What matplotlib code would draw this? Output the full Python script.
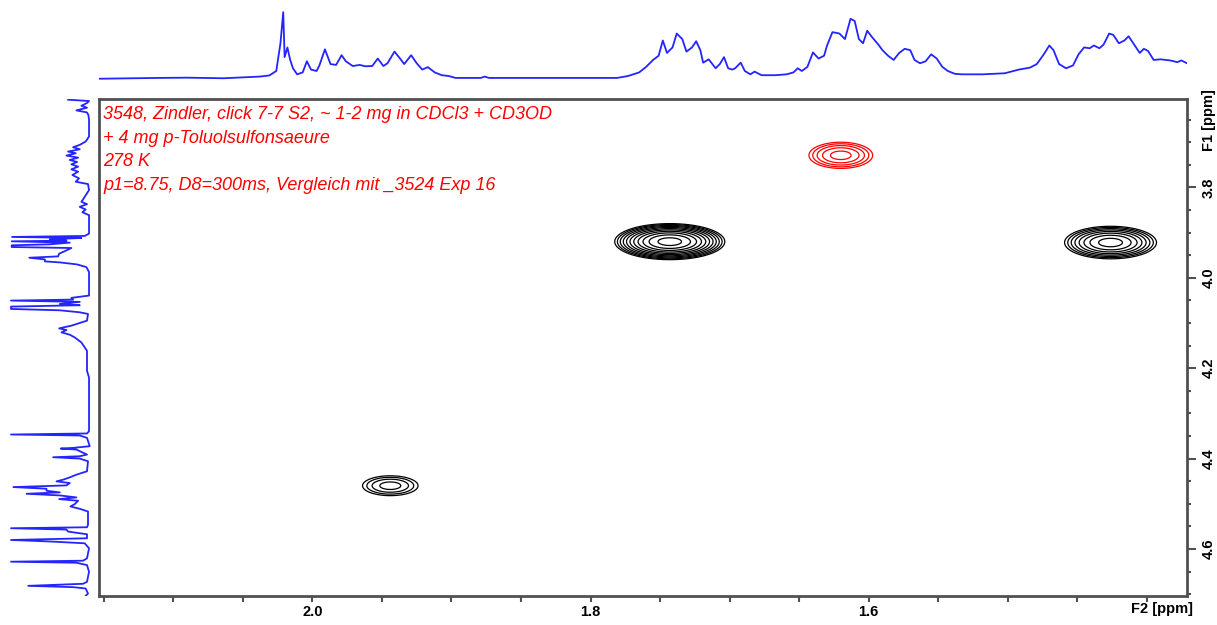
import matplotlib
matplotlib.use("Agg")
from matplotlib import pyplot as plt
from matplotlib.ticker import MultipleLocator
import numpy as np

# F2 projection shown above the map (ppm, relative intensity)
top_ppm = [2.157, 2.111, 2.090, 2.064, 2.038, 2.031, 2.026, 2.023, 2.021, 2.020,
           2.018, 2.016, 2.014, 2.011, 2.007, 2.004, 2.001, 1.997, 1.995, 1.991,
           1.987, 1.983, 1.979, 1.976, 1.971, 1.966, 1.962, 1.957, 1.953, 1.949,
           1.946, 1.941, 1.937, 1.934, 1.929, 1.925, 1.921, 1.917, 1.912, 1.907,
           1.902, 1.897, 1.879, 1.876, 1.873, 1.781, 1.773, 1.765, 1.760, 1.755,
           1.751, 1.748, 1.745, 1.741, 1.738, 1.734, 1.731, 1.727, 1.724, 1.721,
           1.719, 1.715, 1.710, 1.707, 1.704, 1.701, 1.698, 1.696, 1.692, 1.689,
           1.685, 1.682, 1.677, 1.667, 1.659, 1.654, 1.651, 1.648, 1.644, 1.640,
           1.636, 1.632, 1.630, 1.626, 1.621, 1.617, 1.613, 1.610, 1.607, 1.604,
           1.601, 1.598, 1.593, 1.590, 1.586, 1.582, 1.578, 1.574, 1.570, 1.567,
           1.563, 1.559, 1.555, 1.551, 1.547, 1.543, 1.538, 1.533, 1.518, 1.502,
           1.492, 1.484, 1.479, 1.474, 1.470, 1.467, 1.463, 1.458, 1.453, 1.449,
           1.445, 1.441, 1.438, 1.434, 1.431, 1.427, 1.424, 1.420, 1.416, 1.413,
           1.409, 1.405, 1.402, 1.399, 1.395, 1.390, 1.383, 1.378, 1.375, 1.371]
top_int = [0.0, 1.3, 1.7, 0.8, 3.3, 5.0, 11.7, 53.3, 100.0, 32.5,
           47.0, 28.3, 15.8, 6.7, 9.6, 26.3, 13.8, 11.7, 20.0, 44.2,
           22.1, 20.8, 35.4, 26.3, 19.2, 20.8, 18.8, 19.2, 30.4, 19.2,
           23.3, 40.8, 30.4, 22.1, 35.4, 23.3, 13.8, 17.5, 9.6, 5.4,
           4.2, 1.3, 1.3, 3.3, 1.3, 1.3, 4.2, 9.6, 17.9, 28.3,
           34.6, 57.5, 38.8, 47.1, 67.9, 59.6, 40.8, 47.1, 56.3, 42.9,
           24.2, 29.2, 15.8, 22.1, 32.5, 15.8, 13.8, 15.8, 24.2, 11.7,
           6.7, 10.8, 5.4, 5.4, 6.7, 9.6, 15.8, 11.7, 17.9, 39.6,
           30.4, 34.6, 49.2, 70.0, 67.9, 59.6, 90.0, 86.7, 59.6, 53.3,
           72.1, 63.8, 51.3, 42.9, 34.6, 28.3, 38.8, 45.0, 42.9, 28.3,
           23.3, 26.3, 36.7, 30.4, 17.9, 11.7, 7.5, 6.7, 6.7, 8.3,
           13.8, 16.7, 22.1, 36.7, 50.0, 42.9, 22.1, 15.8, 20.0, 36.7,
           47.1, 45.8, 50.0, 45.8, 51.3, 67.9, 65.8, 53.3, 57.5, 63.8,
           51.3, 38.8, 45.0, 41.7, 28.3, 29.2, 27.5, 25.0, 27.5, 23.3]

# F1 projection shown left of the map (ppm, relative intensity)
left_ppm = [3.6059, 3.6089, 3.6133, 3.6193, 3.6237, 3.6296, 3.6341, 3.6393, 3.6504, 3.6874,
            3.6985, 3.7059, 3.7111, 3.7156, 3.7207, 3.7244, 3.7296, 3.7341, 3.7393, 3.7437,
            3.7489, 3.7541, 3.7600, 3.7652, 3.7726, 3.7800, 3.7874, 3.7926, 3.8059, 3.8267,
            3.8319, 3.8370, 3.8430, 3.8489, 3.8548, 3.8615, 3.9022, 3.9074, 3.9096, 3.9119,
            3.9148, 3.9178, 3.9193, 3.9222, 3.9259, 3.9281, 3.9319, 3.9341, 3.9393, 3.9467,
            3.9526, 3.9556, 3.9593, 3.9637, 3.9659, 3.9704, 3.9763, 3.9874, 4.0393, 4.0444,
            4.0482, 4.0504, 4.0533, 4.0578, 4.0607, 4.0637, 4.0689, 4.0719, 4.0763, 4.0800,
            4.0948, 4.1022, 4.1059, 4.1119, 4.1156, 4.1207, 4.1259, 4.1319, 4.1430, 4.1615,
            4.2059, 4.2207, 4.3393, 4.3444, 4.3467, 4.3489, 4.3541, 4.3726, 4.3763, 4.3778,
            4.3800, 4.3852, 4.3911, 4.3948, 4.3970, 4.4000, 4.4059, 4.4281, 4.4356, 4.4415,
            4.4467, 4.4504, 4.4541, 4.4593, 4.4630, 4.4667, 4.4711, 4.4748, 4.4778, 4.4815,
            4.4859, 4.4896, 4.4933, 4.5007, 4.5059, 4.5111, 4.5170, 4.5467, 4.5519, 4.5541,
            4.5570, 4.5615, 4.5674, 4.5763, 4.5800, 4.5837, 4.5874, 4.5985, 4.6207, 4.6259,
            4.6281, 4.6304, 4.6356, 4.6504, 4.6726, 4.6770, 4.6815, 4.6844, 4.6874, 4.6985,
            4.7059]
left_int = [26.8, 0.0, 2.6, 9.8, 2.6, 16.2, 2.6, 0.9, 0.0, 0.0,
            4.3, 11.9, 20.4, 11.9, 26.8, 17.0, 28.9, 14.0, 24.7, 15.3,
            22.6, 14.0, 22.6, 14.0, 21.3, 12.8, 17.0, 1.3, 0.0, 7.7,
            9.8, 2.6, 11.9, 4.3, 8.5, 0.0, 0.0, 5.5, 98.7, 9.8,
            50.2, 28.9, 99.1, 24.7, 50.2, 99.1, 99.1, 22.6, 28.9, 38.3,
            39.6, 76.6, 56.6, 56.6, 37.4, 15.3, 3.4, 0.0, 0.0, 22.6,
            20.4, 100.0, 11.9, 37.4, 11.9, 100.0, 100.0, 37.4, 11.9, 1.3,
            2.6, 16.2, 22.6, 38.3, 28.9, 35.3, 24.7, 18.3, 9.8, 2.6,
            2.6, 0.0, 0.0, 2.6, 100.0, 11.9, 2.6, -0.9, 20.4, 36.2,
            16.2, 9.8, 2.6, 11.9, 46.0, 11.9, 1.3, 2.6, 16.2, 24.7,
            33.2, 41.7, 24.7, 28.9, 97.0, 54.5, 54.5, 37.4, 80.0, 37.4,
            16.2, 38.3, 14.0, 18.3, 23.8, 11.9, 1.3, 1.3, 2.6, 100.0,
            28.9, 26.8, 2.6, 2.6, 100.0, 46.0, 5.5, 0.0, 2.6, 7.7,
            100.0, 16.2, 2.6, 0.0, 2.6, 7.7, 77.9, 20.4, 4.3, 1.3,
            5.5]

# cross peaks: F2 ppm, F1 ppm, intensity (negative = red contours), widths
peak_f2 = [1.743, 1.426, 1.944, 1.620]
peak_f1 = [3.920, 3.922, 4.460, 3.729]
peak_amp = [34.0, 12.5, 3.25, -4.5]
peak_wf2 = [0.0149, 0.0147, 0.0130, 0.0132]
peak_wf1 = [0.0150, 0.0160, 0.0143, 0.0167]

title_lines = [
    "3548, Zindler, click 7-7 S2, ~ 1-2 mg in CDCl3 + CD3OD",
    "+ 4 mg p-Toluolsulfonsaeure",
    "278 K",
    "p1=8.75, D8=300ms, Vergleich mit _3524 Exp 16",
]

F2_LIM = (2.1535, 1.371)
F1_LIM = (4.704, 3.6044)
W, H = 1217, 625
FRAME = "#505050"
BLUE = "#2424ff"

plt.rcParams["font.family"] = ["Liberation Sans", "DejaVu Sans"]

fig = plt.figure(figsize=(W / 100, H / 100), dpi=100)
x0, x1, y0, y1 = 99, 1187, 99, 596
ax = fig.add_axes([x0 / W, 1 - y1 / H, (x1 - x0) / W, (y1 - y0) / H])
ax_top = fig.add_axes([x0 / W, 1 - y0 / H, (x1 - x0) / W, y0 / H])
ax_left = fig.add_axes([0, 1 - y1 / H, 98 / W, (y1 - y0) / H])

# 2D map
f2 = np.linspace(F2_LIM[1], F2_LIM[0], 900)
f1 = np.linspace(F1_LIM[1], F1_LIM[0], 700)
X, Y = np.meshgrid(f2, f1)
Z = np.zeros_like(X)
for px, py, a, sx, sy in zip(peak_f2, peak_f1, peak_amp, peak_wf2, peak_wf1):
    Z += a * np.exp(-0.5 * ((X - px) / sx) ** 2 - 0.5 * ((Y - py) / sy) ** 2)

pos_levels = 1.4 ** np.arange(0, 12)
neg_levels = -(1.4 ** np.arange(0, 8))[::-1]
ax.contour(X, Y, Z, levels=pos_levels, colors="black", linewidths=0.9)
ax.contour(X, Y, Z, levels=neg_levels, colors="red", linewidths=0.9,
           linestyles="solid")

ax.set_xlim(*F2_LIM)
ax.set_ylim(*F1_LIM)
for s in ax.spines.values():
    s.set_color(FRAME)
    s.set_linewidth(2)

ax.yaxis.tick_right()
ax.xaxis.set_minor_locator(MultipleLocator(0.05))
ax.yaxis.set_minor_locator(MultipleLocator(0.05))
ax.tick_params(which="both", direction="out", color=FRAME, width=1.5)
ax.tick_params(axis="x", which="both", length=4.3, pad=2)
ax.tick_params(axis="y", which="major", length=6.5, pad=4)
ax.tick_params(axis="y", which="minor", length=3)

ax.set_xticks([2.0, 1.8, 1.6, 1.4])
ax.set_xticklabels(["2.0", "1.8", "1.6", ""], fontsize=10.5, fontweight="bold")
ax.set_yticks([3.8, 4.0, 4.2, 4.4, 4.6])
ax.set_yticklabels(["3.8", "4.0", "4.2", "4.4", "4.6"], fontsize=10.5,
                   fontweight="bold", rotation=90, va="center")
ax.text(1.389, -0.013, "F2 [ppm]", transform=ax.get_xaxis_transform(),
        ha="center", va="top", fontsize=10.5, fontweight="bold")
ax.text(1.0138, 3.652, "F1 [ppm]", transform=ax.get_yaxis_transform(),
        ha="left", va="center", rotation=90, fontsize=10.5, fontweight="bold")

for i, line in enumerate(title_lines):
    fig.text(103 / W, 1 - (115 + 23.5 * i) / H, line, color="red",
             fontsize=13, style="italic", ha="left", va="center")

# projections
ax_top.plot(top_ppm, top_int, color=BLUE, lw=1.3)
ax_top.set_xlim(*F2_LIM)
ax_top.set_ylim(-30.3, 118.2)
ax_top.axis("off")

ax_left.plot(left_int, left_ppm, color=BLUE, lw=1.3)
ax_left.set_xlim(114.1, -11.5)
ax_left.set_ylim(*F1_LIM)
ax_left.axis("off")

plt.savefig("out.png", dpi=100)
